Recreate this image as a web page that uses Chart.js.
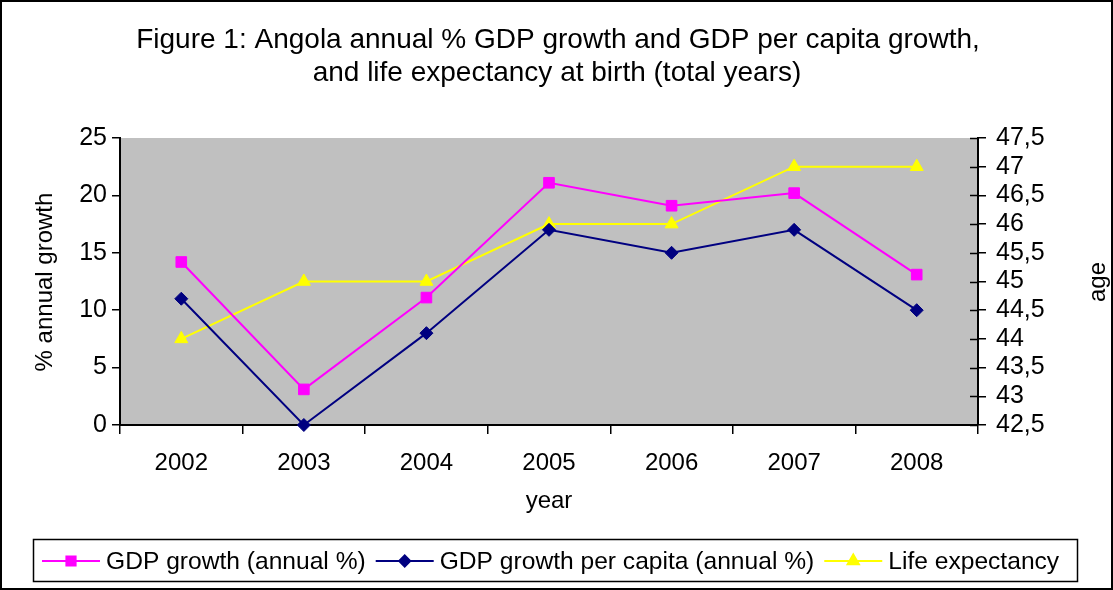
<!DOCTYPE html>
<html>
<head>
<meta charset="utf-8">
<script src="https://cdn.jsdelivr.net/npm/chart.js@4.4.1/dist/chart.umd.min.js"></script>
<style>
  html, body { margin: 0; padding: 0; background: #fff; }
  #wrap { width: 1113px; height: 590px; position: relative; }
</style>
</head>
<body>
<div id="wrap"><canvas id="c"></canvas></div>
<script>
// ---- Data ----
const years = ['2002', '2003', '2004', '2005', '2006', '2007', '2008'];
const gdpGrowth = [14.2, 3.1, 11.1, 21.1, 19.1, 20.2, 13.1];
const gdpPerCapita = [11.0, 0.0, 8.0, 17.0, 15.0, 17.0, 10.0];
const lifeExpectancy = [44, 45, 45, 46, 46, 47, 47];
const leftTicks = [0, 5, 10, 15, 20, 25];
const rightTicks = [42.5, 43, 43.5, 44, 44.5, 45, 45.5, 46, 46.5, 47, 47.5];
const rightTickLabels = ['42,5', '43', '43,5', '44', '44,5', '45', '45,5', '46', '46,5', '47', '47,5'];
const seriesNames = ['GDP growth (annual %)', 'GDP growth per capita (annual %)', 'Life expectancy'];
const titleLines = ['Figure 1: Angola annual % GDP growth and GDP per capita growth,', 'and life expectancy at birth (total years)'];

const FONT = '"Liberation Sans", Arial, sans-serif';
const colors = ['#FF00FF', '#000080', '#FFFF00'];
const styles = ['rect', 'rectRot', 'triangle'];
const radii = [7.5, 6.5, 7.5];

function drawMarker(ctx, style, x, y, r) {
  ctx.save();
  Chart.helpers.drawPoint(ctx, {pointStyle: style, radius: r, rotation: 0, borderWidth: 1}, x, y);
  ctx.restore();
}

const decor = {
  id: 'decor',
  beforeDraw(chart) {
    const {ctx, chartArea: a} = chart;
    ctx.save();
    ctx.fillStyle = '#ffffff';
    ctx.fillRect(0, 0, chart.width, chart.height);
    ctx.fillStyle = '#C0C0C0';
    ctx.fillRect(a.left, a.top, a.right - a.left, a.bottom - a.top);
    ctx.restore();
  },
  afterDraw(chart) {
    const {ctx, chartArea: a} = chart;
    ctx.save();
    ctx.fillStyle = '#000';
    ctx.textAlign = 'center';
    ctx.textBaseline = 'middle';
    ctx.font = '28px ' + FONT;
    ctx.fillText(titleLines[0], 558, 40);
    ctx.fillText(titleLines[1], 557, 73);
    // axis titles
    ctx.font = '24px ' + FONT;
    ctx.fillText('year', 549, 501);
    ctx.save();
    ctx.translate(45, 282);
    ctx.rotate(-Math.PI / 2);
    ctx.fillText('% annual growth', 0, 0);
    ctx.restore();
    ctx.save();
    ctx.translate(1098, 282);
    ctx.rotate(-Math.PI / 2);
    ctx.fillText('age', 0, 0);
    ctx.restore();
    // right axis inner tick marks
    const y1 = chart.scales.y1;
    ctx.strokeStyle = '#000';
    ctx.lineWidth = 1.5;
    y1.ticks.forEach(t => {
      const yy = Math.round(y1.getPixelForValue(t.value)) + 0.5;
      ctx.beginPath();
      ctx.moveTo(a.right - 8, yy);
      ctx.lineTo(a.right, yy);
      ctx.stroke();
    });
    // legend
    ctx.lineWidth = 1.5;
    ctx.strokeStyle = '#000';
    ctx.strokeRect(33.5, 539.5, 1044, 42);
    const ly = 561;
    let x = 42;
    ctx.textAlign = 'left';
    ctx.font = '24.6px ' + FONT;
    for (let i = 0; i < 3; i++) {
      ctx.strokeStyle = colors[i];
      ctx.lineWidth = 2;
      ctx.beginPath();
      ctx.moveTo(x, ly);
      ctx.lineTo(x + 58, ly);
      ctx.stroke();
      ctx.fillStyle = colors[i];
      ctx.strokeStyle = colors[i];
      drawMarker(ctx, styles[i], x + 29, ly, radii[i] - 1);
      ctx.fillStyle = '#000';
      const tx = x + 64;
      ctx.fillText(seriesNames[i], tx, ly + 1);
      x = tx + ctx.measureText(seriesNames[i]).width + 10;
    }
    // outer frame
    ctx.strokeStyle = '#000';
    ctx.lineWidth = 2;
    ctx.strokeRect(1, 1, chart.width - 2, chart.height - 2);
    ctx.restore();
  }
};

const ds = (label, data, i, axis) => ({
  label, data, yAxisID: axis,
  borderColor: colors[i], backgroundColor: colors[i],
  borderWidth: 2,
  pointStyle: styles[i], pointRadius: radii[i], pointHoverRadius: radii[i],
  pointBorderColor: colors[i], pointBackgroundColor: colors[i], pointBorderWidth: 1,
  tension: 0, clip: false
});

new Chart(document.getElementById('c'), {
  type: 'line',
  data: {
    labels: years,
    datasets: [
      ds(seriesNames[0], gdpGrowth, 0, 'y'),
      ds(seriesNames[1], gdpPerCapita, 1, 'y'),
      ds(seriesNames[2], lifeExpectancy, 2, 'y1')
    ]
  },
  options: {
    responsive: true,
    maintainAspectRatio: false,
    animation: false,
    events: [],
    layout: { padding: { top: 138, left: 0, right: 0, bottom: 0 } },
    plugins: { legend: { display: false }, title: { display: false }, tooltip: { enabled: false } },
    scales: {
      x: {
        type: 'category',
        offset: true,
        grid: { display: true, offset: true, drawOnChartArea: false, drawTicks: true, tickLength: 9, color: '#000', lineWidth: 1.5 },
        border: { display: true, color: '#000', width: 2 },
        ticks: { color: '#000', font: { family: FONT, size: 24 }, padding: 15, maxRotation: 0, autoSkip: false },
        afterFit(s) { s.height = 165; }
      },
      y: {
        position: 'left',
        min: 0, max: 25,
        afterBuildTicks(s) { s.ticks = leftTicks.map(v => ({value: v})); },
        grid: { display: true, drawOnChartArea: false, drawTicks: true, tickLength: 8, color: '#000', lineWidth: 1.5 },
        border: { display: true, color: '#000', width: 2 },
        ticks: { color: '#000', font: { family: FONT, size: 25 }, padding: 5, autoSkip: false },
        afterFit(s) { s.width = 120; }
      },
      y1: {
        position: 'right',
        min: 42.5, max: 47.5,
        afterBuildTicks(s) { s.ticks = rightTicks.map(v => ({value: v})); },
        grid: { display: true, drawOnChartArea: false, drawTicks: true, tickLength: 8, color: '#000', lineWidth: 1.5 },
        border: { display: true, color: '#000', width: 2 },
        ticks: {
          color: '#000', font: { family: FONT, size: 25 }, padding: 10, autoSkip: false,
          callback(v) { const k = rightTicks.indexOf(v); return k >= 0 ? rightTickLabels[k] : v; }
        },
        afterFit(s) { s.width = 135; }
      }
    }
  },
  plugins: [decor]
});
</script>
</body>
</html>
